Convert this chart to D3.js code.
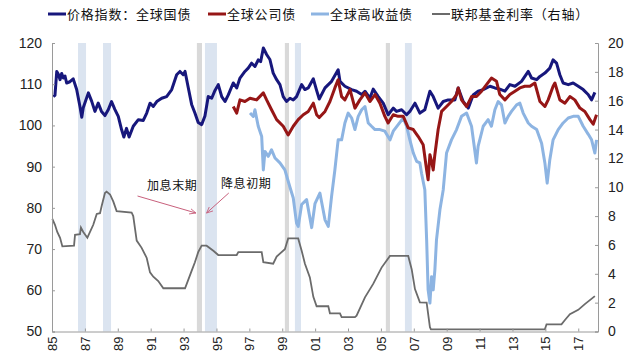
<!DOCTYPE html>
<html>
<head>
<meta charset="utf-8">
<script src="https://cdn.jsdelivr.net/npm/d3@7"></script>
<style>
  body { margin: 0; background: #fff; }
  svg text { font-family: "Liberation Sans", Arial, sans-serif; }
  .cjk { font-family: "Noto Sans CJK SC", sans-serif; }
</style>
</head>
<body>
<svg id="chart" width="635" height="354"></svg>
<script>
// series: [decimal year, value]
var govYears = [1985.08,1985.18,1985.29,1985.38,1985.49,1985.59,1985.69,1985.79,1985.89,1986.09,1986.29,1986.5,1986.7,1986.81,1986.9,1987.21,1987.41,1987.61,1987.81,1988.01,1988.22,1988.42,1988.62,1988.82,1989.03,1989.23,1989.37,1989.53,1989.69,1989.94,1990.25,1990.55,1990.76,1990.96,1991.16,1991.37,1991.67,1991.97,1992.28,1992.58,1992.78,1992.98,1993.09,1993.29,1993.49,1993.69,1993.89,1994.1,1994.3,1994.5,1994.71,1994.91,1995.11,1995.32,1995.52,1995.72,1996.02,1996.23,1996.43,1996.73,1996.93,1997.14,1997.34,1997.54,1997.69,1997.85,1998.05,1998.25,1998.45,1998.66,1998.86,1999.06,1999.26,1999.47,1999.67,1999.87,2000.18,2000.38,2000.58,2000.89,2001.09,2001.25,2001.6,2002,2002.4,2002.51,2002.81,2003.22,2003.52,2003.83,2004.03,2004.33,2004.53,2004.84,2005.14,2005.44,2005.75,2005.95,2006.26,2006.56,2006.76,2007.07,2007.37,2007.67,2007.98,2008.18,2008.48,2008.79,2009.09,2009.5,2009.7,2010,2010.31,2010.61,2010.91,2011.22,2011.63,2011.93,2012.23,2012.54,2012.84,2013.15,2013.55,2013.96,2014.16,2014.47,2014.67,2014.97,2015.27,2015.47,2015.68,2015.88,2016.08,2016.39,2016.69,2017,2017.3,2017.6,2017.81,2018.01];
var govValues = [107,107.3,113.1,112.5,111.1,112.6,111.5,112,110.3,110.6,111.3,108.7,104.6,102,104.3,107.9,105.9,103.4,105.4,103.4,102.4,103.8,105.8,103.9,102.2,99,97.2,99.3,97.2,99.8,101.4,101.2,103,105.4,104.6,105.8,106.6,107,108.7,112.3,113.1,112.3,113.1,109.1,105.1,103,100.7,100.2,102.3,107,106.6,108.5,109.9,107,105.8,107.4,110.3,109.1,111.5,113.1,113.9,115.1,114.3,115.9,115.5,118.8,117.2,116,112.7,111.1,109.9,107,105.8,106.6,106.2,107,109.9,108.7,109.1,111.3,108.5,106.4,109.1,110.7,113.5,110.7,109.5,108.7,108.3,107.5,108.3,106.6,108.8,107,105.4,102.6,104.2,103.4,103.8,102.6,103.4,105.4,103,103.8,108.3,107,104.2,105.8,106.2,106.2,109.1,105.8,104.2,107.4,108.3,108.7,109.5,109.1,108.8,108.3,109.9,109.5,110.7,113.1,111.5,111.1,111.9,112.7,113.9,115.9,115.1,112.3,110.3,109.9,110.3,109.5,108.7,107.5,106.2,108];

var corpYears = [1996.02,1996.23,1996.43,1996.73,1997.04,1997.44,1997.85,1998.05,1998.35,1998.66,1999.06,1999.36,1999.67,1999.97,2000.28,2000.58,2000.89,2001.09,2001.25,2001.6,2001.9,2002.2,2002.4,2002.61,2002.81,2003.12,2003.42,2003.72,2004.03,2004.33,2004.64,2004.94,2005.24,2005.44,2005.75,2006.05,2006.36,2006.66,2006.97,2007.27,2007.57,2007.78,2007.87,2007.98,2008.08,2008.18,2008.28,2008.48,2008.69,2008.99,2009.29,2009.6,2009.7,2009.9,2010.21,2010.51,2010.81,2011.12,2011.42,2011.72,2012.03,2012.23,2012.54,2012.84,2013.15,2013.45,2013.75,2014.06,2014.36,2014.67,2014.97,2015.17,2015.47,2015.58,2015.88,2016.19,2016.49,2016.79,2017.1,2017.4,2017.71,2017.91,2018.11];
var corpValues = [104.6,103,106.2,105.8,106.6,106.2,107.9,106.2,103.8,101.4,99.8,97.7,99.8,101.4,102.6,103.4,105.4,102.6,101.9,103.4,105.8,109.1,111.1,107,106.2,108.7,104.2,106.2,107.9,105.8,107.5,105.4,102.2,100.6,102.6,102.2,102.2,99.4,99,97.3,95.3,89.2,86.8,92.9,91.3,89.2,92.9,99,103.4,104.6,105.8,107.5,109.1,106.2,104.6,107,107,108.3,109.9,111.5,110.7,107.5,106.2,107.5,108.3,109.1,109.5,109.5,110.3,105.8,104.6,106.2,109.5,110.3,106.2,105.4,107,106.2,104.2,103.4,101.4,100.3,102.6];

var hyYears = [1997.04,1997.24,1997.34,1997.54,1997.75,1997.85,1997.95,1998.15,1998.35,1998.56,1998.86,1999.16,1999.47,1999.67,1999.87,1999.97,2000.18,2000.48,2000.79,2000.99,2001.29,2001.6,2001.8,2002,2002.2,2002.4,2002.61,2002.81,2003.01,2003.22,2003.42,2003.62,2003.83,2004.03,2004.23,2004.43,2004.64,2004.94,2005.24,2005.55,2005.75,2006.05,2006.36,2006.56,2006.76,2006.97,2007.17,2007.37,2007.47,2007.67,2007.78,2007.87,2007.98,2008.08,2008.18,2008.28,2008.38,2008.59,2008.79,2008.99,2009.29,2009.6,2009.9,2010.21,2010.51,2010.81,2010.91,2011.22,2011.52,2011.72,2011.93,2012.13,2012.33,2012.54,2012.74,2012.94,2013.25,2013.45,2013.65,2013.96,2014.16,2014.47,2014.77,2014.97,2015.11,2015.27,2015.47,2015.78,2016.08,2016.39,2016.69,2017,2017.3,2017.6,2017.81,2018.01,2018.11];
var hyValues = [103,102.2,103.8,99.8,97.3,89.2,93.7,92.5,94.1,92.1,90.9,89.2,85,82.4,76.3,75.5,80.8,82,75.2,81,83.6,77.1,75.5,82.8,89.2,96.5,96.5,100.6,103,101.8,99,102.2,103.8,104.6,100.6,99.8,99,99,98.6,96.5,98.6,100.2,101.8,99.8,96.5,93.3,91.3,90.9,88.4,84.4,72.3,60.1,56.9,63.3,60.1,64.9,72.3,79.6,84.4,93.3,96.5,99,102.2,103,99.8,90.9,94.9,99.8,101.4,99.8,103.8,105.8,105,100.6,102.2,103.4,105,105.4,103,100.6,99.8,99,95.7,90.9,86,91.7,96.5,99,100.6,101.8,102.2,102.2,99.8,97.9,96.5,93.3,96.5];

var fedYears = [1985.02,1985.18,1985.32,1985.49,1985.63,1986.34,1986.4,1986.7,1986.76,1986.9,1987.15,1987.27,1987.51,1987.72,1987.92,1988.02,1988.22,1988.32,1988.53,1988.73,1988.93,1989.84,1989.94,1990.15,1990.45,1990.76,1990.96,1991.16,1991.46,1991.77,1993.09,1993.29,1993.49,1993.69,1993.89,1994.1,1994.4,1994.81,1995.11,1996.23,1996.33,1997.75,1997.85,1998.45,1998.66,1999.16,1999.36,1999.97,2000.18,2000.38,2000.68,2000.89,2001.09,2001.8,2001.9,2002.51,2002.61,2003.42,2003.52,2004.03,2004.53,2005.04,2005.55,2006.66,2006.87,2007.07,2007.37,2007.78,2007.98,2008.04,2014.97,2015.07,2015.98,2016.19,2016.49,2017,2017.4,2018.01];
var fedValues = [7.8,7.4,6.9,6.5,5.9,5.95,6.7,6.75,7.2,6.9,6.5,6.8,7.4,8.15,8.2,8.7,9.6,9.7,9.5,9,8.35,8.25,8,6.3,5.8,5.1,4.1,3.8,3.5,3,3,3.6,4.2,4.8,5.5,5.95,5.95,5.6,5.3,5.3,5.5,5.5,4.8,4.7,5.2,5.7,6.45,6.45,5.6,4.7,3.75,2.4,1.75,1.75,1.26,1.26,1,1,1.1,2.37,3.3,4.43,5.24,5.24,4.32,2.94,2.02,2,0.3,0.15,0.15,0.5,0.5,0.8,1.2,1.5,1.9,2.45];

// shaded periods: [start, end, kind]
var bandStart = [1986.58,1988.1,1993.81,1994.3,1999.16,1999.77,2005.3,2006.46];
var bandEnd   = [1987.07,1988.59,1994.12,1995.03,1999.41,2000.14,2005.55,2006.88];
var bandKind  = ['b','b','g','b','g','b','g','b'];

var xTicks = [1985,1987,1989,1991,1993,1995,1997,1999,2001,2003,2005,2007,2009,2011,2013,2015,2017];
var leftTicks = [50,60,70,80,90,100,110,120];
var rightTicks = [0,2,4,6,8,10,12,14,16,18,20];

var legendNames = ['价格指数：全球国债','全球公司债','全球高收益债','联邦基金利率（右轴）'];
var colors = ['#17177c','#961616','#8db4e2','#6b6b6b'];

var svg = d3.select('#chart');
var L = 52, R = 598, T = 43, B = 331.5;
var x  = d3.scaleLinear().domain([1985, 2018.2]).range([L, R]);
var yl = d3.scaleLinear().domain([50, 120]).range([B, T]);
var yr = d3.scaleLinear().domain([0, 20]).range([B, T]);

// bands
svg.append('g').selectAll('rect').data(bandStart).join('rect')
    .attr('x', function(d){ return x(d); })
    .attr('width', function(d,i){ return x(bandEnd[i]) - x(d); })
    .attr('y', T).attr('height', B - T)
    .attr('fill', function(d,i){ return bandKind[i]==='g' ? '#d9d9d9' : '#dbe4f0'; });

function series(xs, vs){ return xs.map(function(d,i){ return [d, vs[i]]; }); }
var lineL = d3.line().x(function(d){ return x(d[0]); }).y(function(d){ return yl(d[1]); });
var lineR = d3.line().x(function(d){ return x(d[0]); }).y(function(d){ return yr(d[1]); });

svg.append('path').datum(series(fedYears, fedValues)).attr('d', lineR)
    .attr('fill','none').attr('stroke',colors[3]).attr('stroke-width',1.8);
svg.append('path').datum(series(hyYears, hyValues)).attr('d', lineL)
    .attr('fill','none').attr('stroke',colors[2]).attr('stroke-width',3).attr('stroke-linejoin','round');
svg.append('path').datum(series(govYears, govValues)).attr('d', lineL)
    .attr('fill','none').attr('stroke',colors[0]).attr('stroke-width',3).attr('stroke-linejoin','round');
svg.append('path').datum(series(corpYears, corpValues)).attr('d', lineL)
    .attr('fill','none').attr('stroke',colors[1]).attr('stroke-width',3).attr('stroke-linejoin','round');

// axes
var axL = svg.append('g').attr('transform','translate('+L+',0)')
    .call(d3.axisLeft(yl).tickValues(leftTicks).tickSize(-3).tickPadding(10));
var axR = svg.append('g').attr('transform','translate('+R+',0)')
    .call(d3.axisRight(yr).tickValues(rightTicks).tickSize(-3).tickPadding(10));
var axB = svg.append('g').attr('transform','translate(0,'+B+')')
    .call(d3.axisBottom(x).tickValues(xTicks).tickSize(-3)
        .tickFormat(function(d){ return String(d).slice(2); }));
[axL, axR, axB].forEach(function(a){
    a.select('.domain').attr('stroke','#9a9a9a');
    a.selectAll('.tick line').attr('stroke','#9a9a9a');
    a.selectAll('text').attr('fill','#222').attr('font-size','14px')
        .attr('font-family','"Liberation Sans", Arial, sans-serif');
});
axB.selectAll('text').attr('transform','rotate(-90)').attr('text-anchor','end')
    .attr('x',-5).attr('y',0).attr('dy','0.35em').attr('font-size','13px');

// legend
var legX = [48, 208, 311, 432];
var leg = svg.append('g').selectAll('g').data(legendNames).join('g')
    .attr('transform', function(d,i){ return 'translate('+legX[i]+',14)'; });
leg.append('line').attr('x1',0).attr('x2',18).attr('y1',0).attr('y2',0)
    .attr('stroke', function(d,i){ return colors[i]; })
    .attr('stroke-width', function(d,i){ return i===3 ? 2 : 3; });
leg.append('text').attr('class','cjk').attr('x',19).attr('y',0).attr('dy','0.35em')
    .attr('font-size','13px').attr('letter-spacing','0.8px').attr('fill','#111')
    .text(function(d){ return d; });

// annotations
var defs = svg.append('defs');
defs.append('marker').attr('id','arr').attr('viewBox','0 0 10 10').attr('refX',9).attr('refY',5)
    .attr('markerWidth',7).attr('markerHeight',7).attr('orient','auto')
    .append('path').attr('d','M0,1 L9,5 L0,9').attr('fill','none').attr('stroke','#c8607c').attr('stroke-width',1.2);
svg.append('text').attr('class','cjk').attr('x',147).attr('y',190).attr('font-size','12px')
    .attr('letter-spacing','0.6px').attr('fill','#111').text('加息末期');
svg.append('text').attr('class','cjk').attr('x',221).attr('y',188).attr('font-size','12px')
    .attr('letter-spacing','0.6px').attr('fill','#111').text('降息初期');
svg.append('line').attr('x1',x(1990.2)).attr('y1',196).attr('x2',x(1993.75)).attr('y2',213)
    .attr('stroke','#c8607c').attr('stroke-width',1).attr('marker-end','url(#arr)');
svg.append('line').attr('x1',x(1995.75)).attr('y1',193).attr('x2',x(1994.4)).attr('y2',213)
    .attr('stroke','#c8607c').attr('stroke-width',1).attr('marker-end','url(#arr)');
</script>
</body>
</html>
